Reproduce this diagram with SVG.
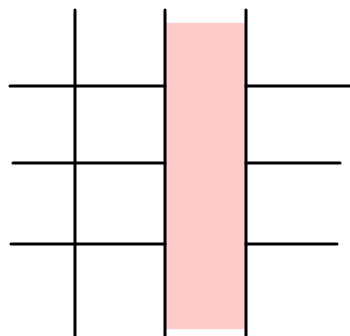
<svg xmlns="http://www.w3.org/2000/svg" width="350" height="336" viewBox="0 0 350 336">
<style>
.l{stroke:#000;stroke-width:3;stroke-linecap:round;fill:none}
</style>
<rect width="350" height="336" fill="#fff"/>
<g id="band"><rect x="166" y="23" width="79" height="306" fill="#ffcaca"/></g>
<g id="connectors">
<line class="l" x1="75" y1="10" x2="75" y2="340"/>
<line class="l" x1="165" y1="10" x2="165" y2="340"/>
<line class="l" x1="246" y1="10" x2="246" y2="340"/>
<line class="l" x1="10" y1="86" x2="165" y2="86"/>
<line class="l" x1="246" y1="86" x2="352" y2="86"/>
<line class="l" x1="13" y1="163" x2="165" y2="163"/>
<line class="l" x1="246" y1="163" x2="340" y2="163"/>
<line class="l" x1="11" y1="244" x2="165" y2="244"/>
<line class="l" x1="246" y1="244" x2="337" y2="244"/>
</g>
</svg>
